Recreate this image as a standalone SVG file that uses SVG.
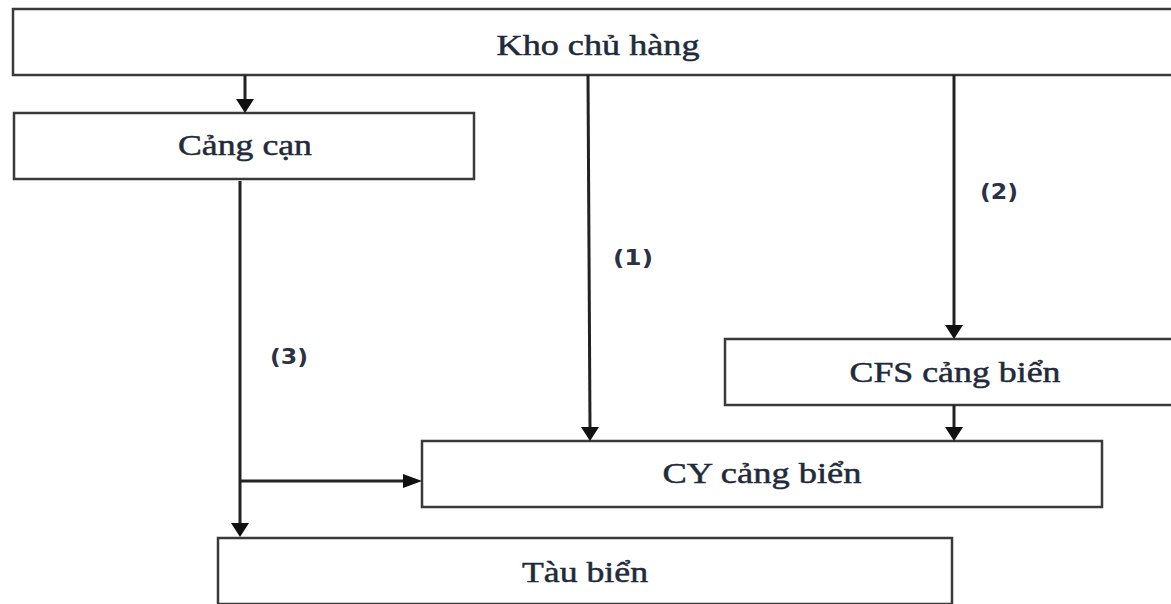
<svg xmlns="http://www.w3.org/2000/svg" width="1171" height="604" viewBox="0 0 1171 604">
<style>
.box{fill:#fff;stroke:#3a3a3a;stroke-width:2.5}
.lbl{font-family:"Liberation Serif","Times New Roman",serif;font-size:30px;fill:#1f2a3a;stroke:#1f2a3a;stroke-width:0.5;text-anchor:middle}
.num{font-family:"DejaVu Sans",Verdana,sans-serif;font-weight:bold;font-size:22px;fill:#2a3344;text-anchor:middle}
.ln{fill:none;stroke:#222;stroke-width:3}
.ah{fill:#111}
</style>
<rect width="1171" height="604" fill="#fff"/>
<g id="kho">
<rect class="box" x="13" y="9" width="1170" height="66"/>
<text class="lbl" x="598" y="55" textLength="203" lengthAdjust="spacingAndGlyphs">Kho chủ hàng</text>
</g>
<g id="cangcan">
<rect class="box" x="14" y="113" width="460" height="66"/>
<text class="lbl" x="245" y="155" textLength="134" lengthAdjust="spacingAndGlyphs">Cảng cạn</text>
</g>
<g id="cfs">
<rect class="box" x="725" y="339" width="460" height="66"/>
<text class="lbl" x="955" y="382" textLength="211" lengthAdjust="spacingAndGlyphs">CFS cảng biển</text>
</g>
<g id="cy">
<rect class="box" x="422" y="441" width="680" height="66"/>
<text class="lbl" x="762" y="483" textLength="199" lengthAdjust="spacingAndGlyphs">CY cảng biển</text>
</g>
<g id="taubien">
<rect class="box" x="218" y="538" width="734" height="66"/>
<text class="lbl" x="585" y="582" textLength="126" lengthAdjust="spacingAndGlyphs">Tàu biển</text>
</g>
<g id="connectors">
<line class="ln" x1="245" y1="75" x2="245" y2="100"/>
<polygon class="ah" points="236,99 254,99 245,113"/>
<line class="ln" x1="588" y1="75" x2="590" y2="428"/>
<polygon class="ah" points="581,427 599,427 590,441"/>
<line class="ln" x1="954" y1="75" x2="954" y2="326"/>
<polygon class="ah" points="945,325 963,325 954,339"/>
<line class="ln" x1="954" y1="405" x2="954" y2="428"/>
<polygon class="ah" points="945,427 963,427 954,441"/>
<line class="ln" x1="240" y1="181" x2="240" y2="524"/>
<polygon class="ah" points="231,523 249,523 240,537"/>
<line class="ln" x1="240" y1="481" x2="405" y2="481"/>
<polygon class="ah" points="403,474 403,488 422,481"/>
<text class="num" x="633" y="265" textLength="40" lengthAdjust="spacingAndGlyphs">(1)</text>
<text class="num" x="999" y="199" textLength="38" lengthAdjust="spacingAndGlyphs">(2)</text>
<text class="num" x="289" y="364" textLength="38" lengthAdjust="spacingAndGlyphs">(3)</text>
</g>
</svg>
